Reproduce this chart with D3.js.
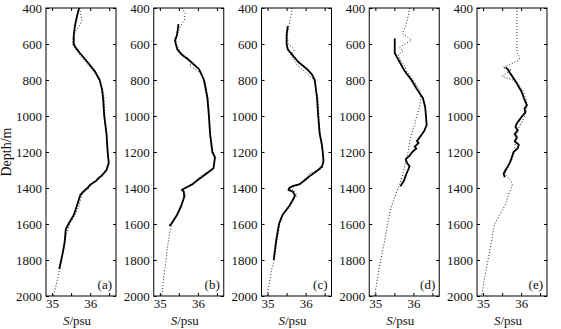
<!DOCTYPE html>
<html><head><meta charset="utf-8">
<script src="https://cdn.jsdelivr.net/npm/d3@7/dist/d3.min.js"></script>
<style>
body{margin:0;background:#fff;}
text{font-family:"Liberation Serif","Times New Roman",serif;}
</style></head>
<body><svg id="c" width="561" height="329"></svg>
<script>
const depthTicks = [400,600,800,1000,1200,1400,1600,1800,2000];
const salTicks = [35,35.5,36,36.5];
const salTickLabels = ["35","","36",""];
const panelLabels = ["(a)","(b)","(c)","(d)","(e)"];

const aSolidDepth = [400,450,500,550,600,620,650,700,750,800,850,900,1000,1100,1200,1260,1300,1330,1345,1360,1380,1400,1420,1440,1460,1500,1550,1600,1630,1700,1750,1800,1850];
const aSolidSal   = [35.71,35.65,35.60,35.57,35.57,35.62,35.73,35.93,36.12,36.25,36.31,36.34,36.37,36.43,36.46,36.49,36.43,36.31,36.22,36.16,36.01,35.93,35.82,35.74,35.71,35.65,35.57,35.43,35.36,35.33,35.29,35.24,35.19];
const aDotDepth = [400,440,470,500,530,560,600,640,680,720,760,800,850,900,1000,1100,1200,1270,1300,1340,1360,1380,1400,1430,1450,1500,1550,1600,1650,1700,1800,1900,2000];
const aDotSal   = [35.72,35.76,35.78,35.72,35.62,35.55,35.53,35.66,35.80,35.96,36.12,36.24,36.33,36.37,36.39,36.44,36.47,36.49,36.45,36.30,36.12,36.05,35.97,35.80,35.76,35.71,35.60,35.46,35.38,35.34,35.25,35.15,35.04];

const bSolidDepth = [490,520,550,580,600,630,660,680,700,740,800,900,1000,1100,1200,1230,1290,1310,1330,1350,1380,1400,1410,1420,1450,1500,1550,1600,1610];
const bSolidSal   = [35.49,35.47,35.45,35.40,35.42,35.46,35.58,35.71,35.82,36.03,36.16,36.25,36.29,36.32,36.38,36.45,36.41,36.29,36.16,36.03,35.85,35.67,35.58,35.63,35.64,35.56,35.45,35.30,35.25];
const bDotDepth = [400,430,470,500,540,580,610,650,680,700,720,760,800,900,1000,1100,1200,1240,1290,1330,1350,1380,1400,1420,1440,1460,1500,1550,1600,1650,1700,1800,1900,2000];
const bDotSal   = [35.58,35.67,35.64,35.54,35.47,35.42,35.45,35.56,35.75,35.85,35.78,36.06,36.18,36.27,36.30,36.33,36.40,36.44,36.42,36.10,36.00,35.88,35.66,35.60,35.70,35.62,35.57,35.46,35.31,35.26,35.22,35.16,35.10,35.05];

const cSolidDepth = [500,550,600,630,660,700,740,770,800,900,1000,1100,1150,1200,1250,1280,1300,1330,1360,1380,1390,1400,1410,1420,1440,1460,1500,1550,1600,1650,1700,1750,1800];
const cSolidSal   = [35.53,35.50,35.50,35.53,35.65,35.81,36.04,36.17,36.24,36.30,36.33,36.37,36.42,36.45,36.47,36.43,36.33,36.13,35.96,35.83,35.65,35.57,35.55,35.66,35.72,35.68,35.57,35.39,35.30,35.26,35.22,35.19,35.16];
const cDotDepth = [400,450,500,550,600,620,640,660,700,720,760,800,900,1000,1100,1200,1250,1290,1320,1340,1380,1400,1420,1440,1460,1500,1550,1600,1700,1800,1850,1900,1950,2000];
const cDotSal   = [35.65,35.61,35.56,35.52,35.54,35.66,35.70,35.60,35.74,35.78,36.02,36.22,36.32,36.35,36.38,36.44,36.46,36.44,36.10,36.02,35.85,35.60,35.72,35.78,35.70,35.59,35.41,35.32,35.24,35.18,35.11,35.07,35.03,34.99];

const dSolidDepth = [570,600,650,670,700,750,800,850,900,950,1000,1050,1080,1100,1120,1140,1150,1170,1180,1200,1220,1240,1260,1280,1300,1330,1360,1390];
const dSolidSal   = [35.51,35.51,35.51,35.56,35.64,35.77,35.95,36.09,36.25,36.31,36.33,36.35,36.29,36.23,36.16,36.09,36.14,36.03,36.08,35.97,35.90,35.80,35.83,35.90,35.86,35.80,35.75,35.66];
const dDotDepth = [400,450,500,540,580,600,620,640,660,700,720,750,800,850,900,950,1000,1050,1100,1150,1200,1250,1300,1350,1400,1450,1500,1550,1600,1700,1800,1900,2000];
const dDotSal   = [35.90,35.86,35.80,35.71,35.95,35.77,35.64,35.73,35.60,35.69,35.77,35.82,35.99,36.16,36.20,36.16,36.09,36.03,35.95,35.90,35.86,35.80,35.75,35.69,35.60,35.51,35.43,35.37,35.32,35.24,35.14,35.06,34.98];

const eSolidDepth = [730,740,760,780,800,820,840,860,880,900,920,940,960,980,1000,1020,1040,1060,1080,1100,1120,1140,1160,1180,1200,1220,1240,1260,1280,1300,1320,1340];
const eSolidSal   = [35.59,35.65,35.70,35.77,35.83,35.89,35.94,36.00,36.04,36.07,36.11,36.15,36.09,36.11,36.03,35.96,35.89,35.85,35.91,35.83,35.89,35.83,35.94,35.91,35.80,35.77,35.74,35.70,35.65,35.59,35.54,35.57];
const eDotDepth = [400,500,600,650,670,690,700,715,730,745,760,780,800,830,860,900,940,980,1020,1060,1100,1150,1200,1250,1300,1320,1340,1360,1380,1400,1450,1500,1550,1600,1700,1800,1900,2000];
const eDotSal   = [35.89,35.89,35.89,35.89,35.96,35.94,35.83,35.70,35.52,35.75,35.62,35.50,35.78,35.96,36.05,36.12,36.16,36.13,36.05,35.95,35.88,35.85,35.82,35.74,35.62,35.57,35.65,35.74,35.77,35.74,35.65,35.57,35.43,35.30,35.22,35.13,35.04,34.96];

const solidDepths = [aSolidDepth,bSolidDepth,cSolidDepth,dSolidDepth,eSolidDepth];
const solidSals = [aSolidSal,bSolidSal,cSolidSal,dSolidSal,eSolidSal];
const dotDepths = [aDotDepth,bDotDepth,cDotDepth,dDotDepth,eDotDepth];
const dotSals = [aDotSal,bDotSal,cDotSal,dDotSal,eDotSal];

const svg = d3.select("#c");
const plotTop = 8, plotBottom = 296, pw = 70, firstLeft = 46, step = 107.75;
const y = d3.scaleLinear().domain([400,2000]).range([plotTop,plotBottom]);

svg.append("text").attr("transform",`translate(11,${(plotTop+plotBottom)/2}) rotate(-90)`)
  .attr("text-anchor","middle").attr("font-size",14).attr("fill","#111").text("Depth/m");

panelLabels.forEach((lab,i)=>{
  const left = firstLeft + i*step;
  const x = d3.scaleLinear().domain([34.84,36.68]).range([left,left+pw]);
  const g = svg.append("g");
  const fmtX = d => salTickLabels[salTicks.indexOf(d)];
  const axL = g.append("g").attr("transform",`translate(${left},0)`)
    .call(d3.axisLeft(y).tickValues(depthTicks).tickSizeInner(-3).tickSizeOuter(0).tickPadding(4).tickFormat(d3.format("d")));
  const axR = g.append("g").attr("transform",`translate(${left+pw},0)`)
    .call(d3.axisRight(y).tickValues(depthTicks).tickSizeInner(-3).tickSizeOuter(0).tickFormat(""));
  const axB = g.append("g").attr("transform",`translate(0,${plotBottom})`)
    .call(d3.axisBottom(x).tickValues(salTicks).tickSizeInner(-3).tickSizeOuter(0).tickPadding(3).tickFormat(fmtX));
  const axT = g.append("g").attr("transform",`translate(0,${plotTop})`)
    .call(d3.axisTop(x).tickValues(salTicks).tickSizeInner(-3).tickSizeOuter(0).tickFormat(""));
  [axL,axR,axB,axT].forEach(a=>{
    a.select(".domain").remove();
    a.selectAll("line").attr("stroke","#000");
    a.selectAll("text").attr("font-size",13).attr("fill","#111").style("font-family","'Liberation Serif',serif");
  });
  const line = d3.line().x(d=>x(d[1])).y(d=>y(d[0]));
  const dots = dotDepths[i].map((d,k)=>[d,dotSals[i][k]]);
  const sol = solidDepths[i].map((d,k)=>[d,solidSals[i][k]]);
  g.append("path").attr("d",line(dots)).attr("fill","none").attr("stroke","#222")
    .attr("stroke-width",1).attr("stroke-dasharray","1,2");
  g.append("path").attr("d",line(sol)).attr("fill","none").attr("stroke","#000")
    .attr("stroke-width",1.8).attr("stroke-linejoin","round");
  g.append("rect").attr("x",left).attr("y",plotTop).attr("width",pw).attr("height",plotBottom-plotTop)
    .attr("fill","none").attr("stroke","#000").attr("stroke-width",1);
  g.append("text").attr("x",left+pw-4).attr("y",plotBottom-7).attr("text-anchor","end")
    .attr("font-size",13).attr("fill","#111").text(lab);
  const xl = g.append("text").attr("x",left+pw/2-4).attr("y",325).attr("text-anchor","middle").attr("font-size",13).attr("fill","#111");
  xl.append("tspan").attr("font-style","italic").text("S");
  xl.append("tspan").text("/psu");
});
</script></body></html>
